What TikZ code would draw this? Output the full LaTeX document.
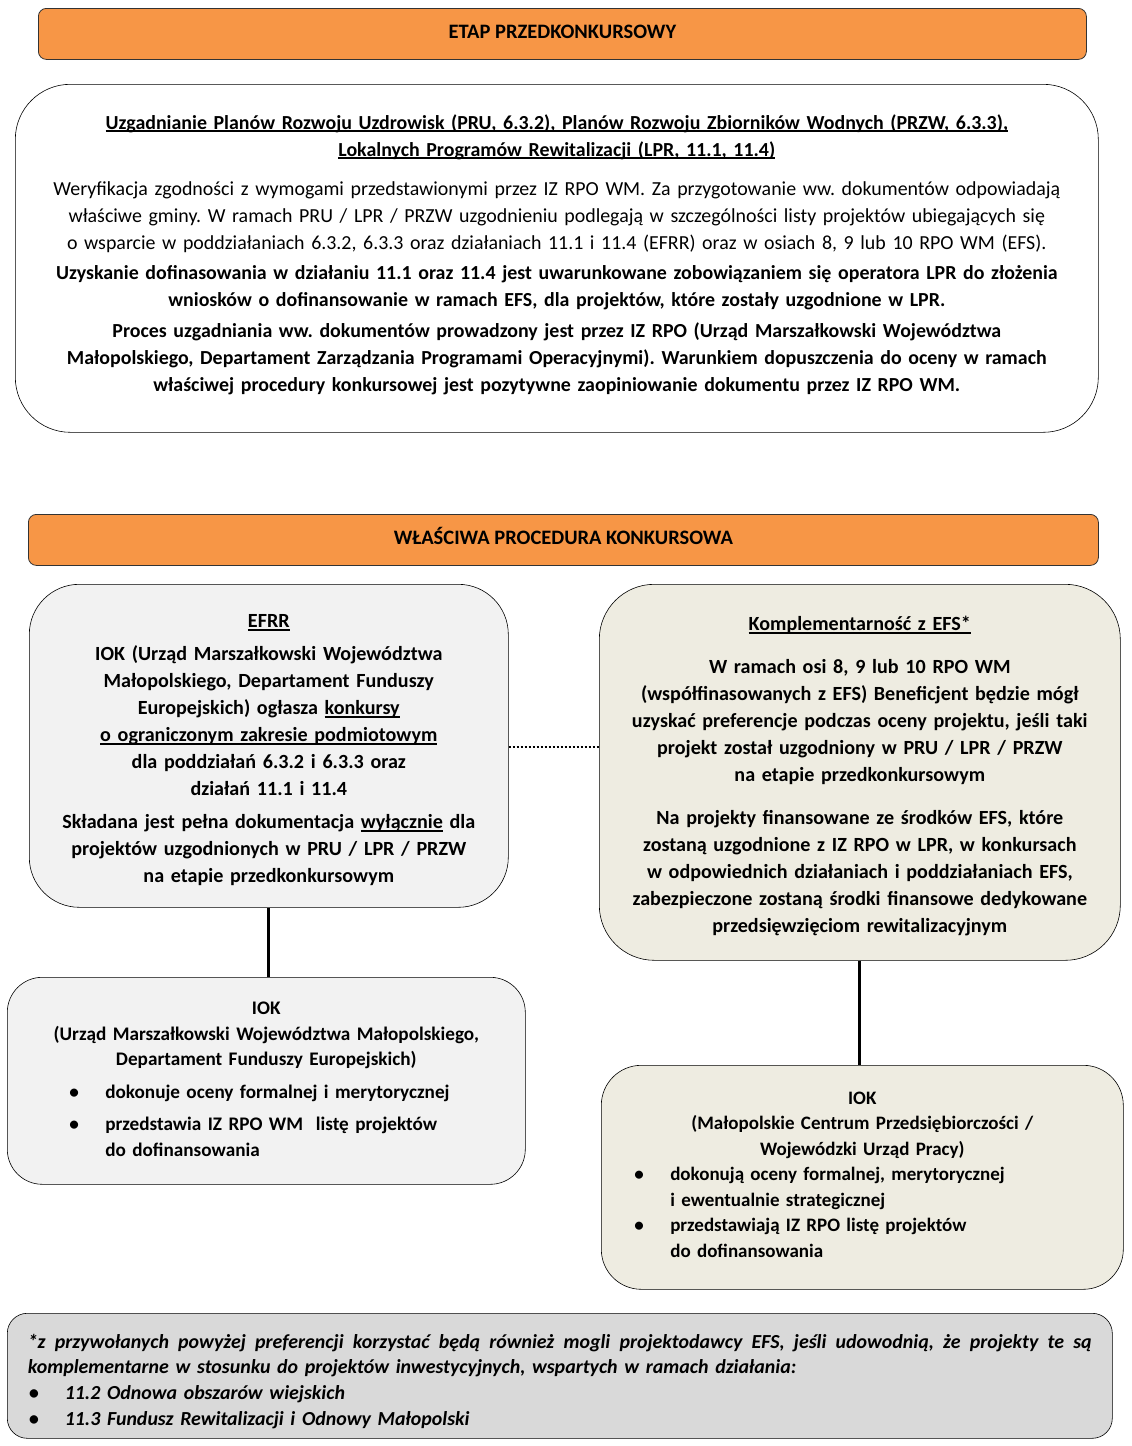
\documentclass[tikz,border=0pt]{standalone}
\usepackage{fontspec}
\setmainfont{Carlito}
\usetikzlibrary{positioning}
\definecolor{hdrorange}{HTML}{F79646}
\definecolor{efrrgray}{HTML}{F2F2F2}
\definecolor{efstan}{HTML}{EEECE1}
\definecolor{notegray}{HTML}{D9D9D9}
\frenchspacing
% underline close to the baseline
\newcommand{\undl}[1]{\leavevmode\setbox0\hbox{#1}\rlap{\rule[-2.8pt]{\wd0}{1.5pt}}\box0\relax}
% bullet line: indent, mark, text
\newcommand{\bitem}[3]{\makebox[\linewidth][l]{\hspace*{#1}\makebox[36pt][l]{#2}#3}}
\tikzset{
    %Define style for the orange stage bars
    stage/.style={
      rectangle,
      rounded corners=8pt,
      draw=black!80, thick,
      fill=hdrorange,
      minimum height=51pt,
      text height=13.2pt, text depth=5pt,
      font=\fontsize{20.5}{24}\selectfont\bfseries,
      anchor=north west},
    %Define style for text boxes
    panel/.style={
      rectangle,
      draw=black, semithick,
      inner sep=0pt,
      align=center,
      anchor=north west},
    % Define connector style
    link/.style={
      line width=2.8pt,}
}

\begin{document}
\begin{tikzpicture}[x=1pt, y=-1pt]
    \useasboundingbox (0,0) rectangle (1132,1446);
    \node[stage, minimum width=1048pt] (etap) at (38,8) {ETAP PRZEDKONKURSOWY};
    \node[panel, rounded corners=55pt, minimum width=1083pt, minimum height=348pt,
      text width=1070pt, font=\fontsize{19.9}{27}\selectfont\bfseries] (uzgod) at (15,84) {
      \undl{Uzgadnianie Planów Rozwoju Uzdrowisk (PRU, 6.3.2), Planów Rozwoju Zbiorników Wodnych (PRZW, 6.3.3),}\\
      \undl{Lokalnych Programów Rewitalizacji (LPR, 11.1, 11.4)}\\[12pt]
      \mdseries Weryfikacja zgodności z wymogami przedstawionymi przez IZ RPO WM. Za przygotowanie ww. dokumentów odpowiadają\\
      właściwe gminy. W ramach PRU / LPR / PRZW uzgodnieniu podlegają w szczególności listy projektów ubiegających się\\
      o wsparcie w poddziałaniach 6.3.2, 6.3.3 oraz działaniach 11.1 i 11.4 (EFRR) oraz w osiach 8, 9 lub 10 RPO WM (EFS).\\[3pt]
      \bfseries Uzyskanie dofinasowania w działaniu 11.1 oraz 11.4 jest uwarunkowane zobowiązaniem się operatora LPR do złożenia\\
      wniosków o dofinansowanie w ramach EFS, dla projektów, które zostały uzgodnione w LPR.\\[4pt]
      Proces uzgadniania ww. dokumentów prowadzony jest przez IZ RPO (Urząd Marszałkowski Województwa\\
      Małopolskiego, Departament Zarządzania Programami Operacyjnymi). Warunkiem dopuszczenia do oceny w ramach\\
      właściwej procedury konkursowej jest pozytywne zaopiniowanie dokumentu przez IZ RPO WM.\par\kern8pt};
    \node[stage, minimum width=1070pt] (wlasc) at (28,514) {WŁAŚCIWA PROCEDURA KONKURSOWA};
    % EFRR branch
    \node[panel, rounded corners=50pt, fill=efrrgray, minimum width=479pt, minimum height=323pt,
      text width=460pt, font=\fontsize{20.1}{27}\selectfont\bfseries] (efrr) at (29,584) {
      \undl{EFRR}\\[6pt]
      IOK (Urząd Marszałkowski Województwa\\
      Małopolskiego, Departament Funduszy\\
      Europejskich) ogłasza \undl{konkursy}\\
      \undl{o ograniczonym zakresie podmiotowym}\\
      dla poddziałań 6.3.2 i 6.3.3 oraz\\
      działań 11.1 i 11.4\\[6pt]
      Składana jest pełna dokumentacja \undl{wyłącznie} dla\\
      projektów uzgodnionych w PRU / LPR / PRZW\\
      na etapie przedkonkursowym\par\kern-9pt};
    % EFS branch
    \node[panel, rounded corners=55pt, fill=efstan, minimum width=521pt, minimum height=376pt,
      text width=500pt, font=\fontsize{20.1}{27}\selectfont\bfseries] (efs) at (599,584) {
      \undl{Komplementarność z EFS*}\\[16pt]
      W ramach osi 8, 9 lub 10 RPO WM\\
      (współfinasowanych z EFS) Beneficjent będzie mógł\\
      uzyskać preferencje podczas oceny projektu, jeśli taki\\
      projekt został uzgodniony w PRU / LPR / PRZW\\
      na etapie przedkonkursowym\\[16pt]
      Na projekty finansowane ze środków EFS, które\\
      zostaną uzgodnione z IZ RPO w LPR, w konkursach\\
      w odpowiednich działaniach i poddziałaniach EFS,\\
      zabezpieczone zostaną środki finansowe dedykowane\\
      przedsięwzięciom rewitalizacyjnym\par\kern-8pt};
    \node[panel, rounded corners=35pt, fill=efrrgray, minimum width=518pt, minimum height=207pt,
      text width=460pt, font=\fontsize{19.2}{25.5}\selectfont\bfseries] (iokum) at (7,977) {
      IOK\\
      (Urząd Marszałkowski Województwa Małopolskiego,\\
      Departament Funduszy Europejskich)\\[7pt]
      \bitem{33pt}{\textbullet}{dokonuje oceny formalnej i merytorycznej}\\[7pt]
      \bitem{33pt}{\textbullet}{przedstawia IZ RPO WM\ \ listę projektów}\\
      \bitem{33pt}{}{do dofinansowania}\par\kern3pt};
    \node[panel, rounded corners=40pt, fill=efstan, minimum width=522pt, minimum height=224pt,
      text width=480pt, font=\fontsize{19}{25.5}\selectfont\bfseries] (iokefs) at (601,1065) {
      IOK\\
      (Małopolskie Centrum Przedsiębiorczości /\\
      Wojewódzki Urząd Pracy)\\
      \bitem{12pt}{\textbullet}{dokonują oceny formalnej, merytorycznej}\\
      \bitem{12pt}{}{i ewentualnie strategicznej}\\
      \bitem{12pt}{\textbullet}{przedstawiają IZ RPO listę projektów}\\
      \bitem{12pt}{}{do dofinansowania}\par\kern5pt};
    % footnote
    \node[panel, rounded corners=20pt, fill=notegray, minimum width=1105pt, minimum height=125pt,
      text width=1064pt, align=justify, font=\fontsize{19.9}{25.7}\selectfont\bfseries\itshape] (note) at (7,1313) {
      \hyphenpenalty=10000 \exhyphenpenalty=10000 \spaceskip=6.7pt plus 4pt minus 1.5pt \xspaceskip=0pt
      *z przywołanych powyżej preferencji korzystać będą również mogli projektodawcy EFS, jeśli udowodnią, że projekty te są
      komplementarne w stosunku do projektów inwestycyjnych, wspartych w ramach działania:\par
      \bitem{1pt}{\textbullet}{11.2 Odnowa obszarów wiejskich}\par
      \bitem{1pt}{\textbullet}{11.3 Fundusz Rewitalizacji i Odnowy Małopolski}\par\kern-11pt};
    % connectors
    \draw[link] (efrr.south) -- (efrr.south |- iokum.north);
    \draw[link] (efs.south) -- (efs.south |- iokefs.north);
    \draw[line width=2.6pt, dash pattern=on 2pt off 2pt] (efrr.east |- 0,747) -- (efs.west |- 0,747);
\end{tikzpicture}
\end{document}
